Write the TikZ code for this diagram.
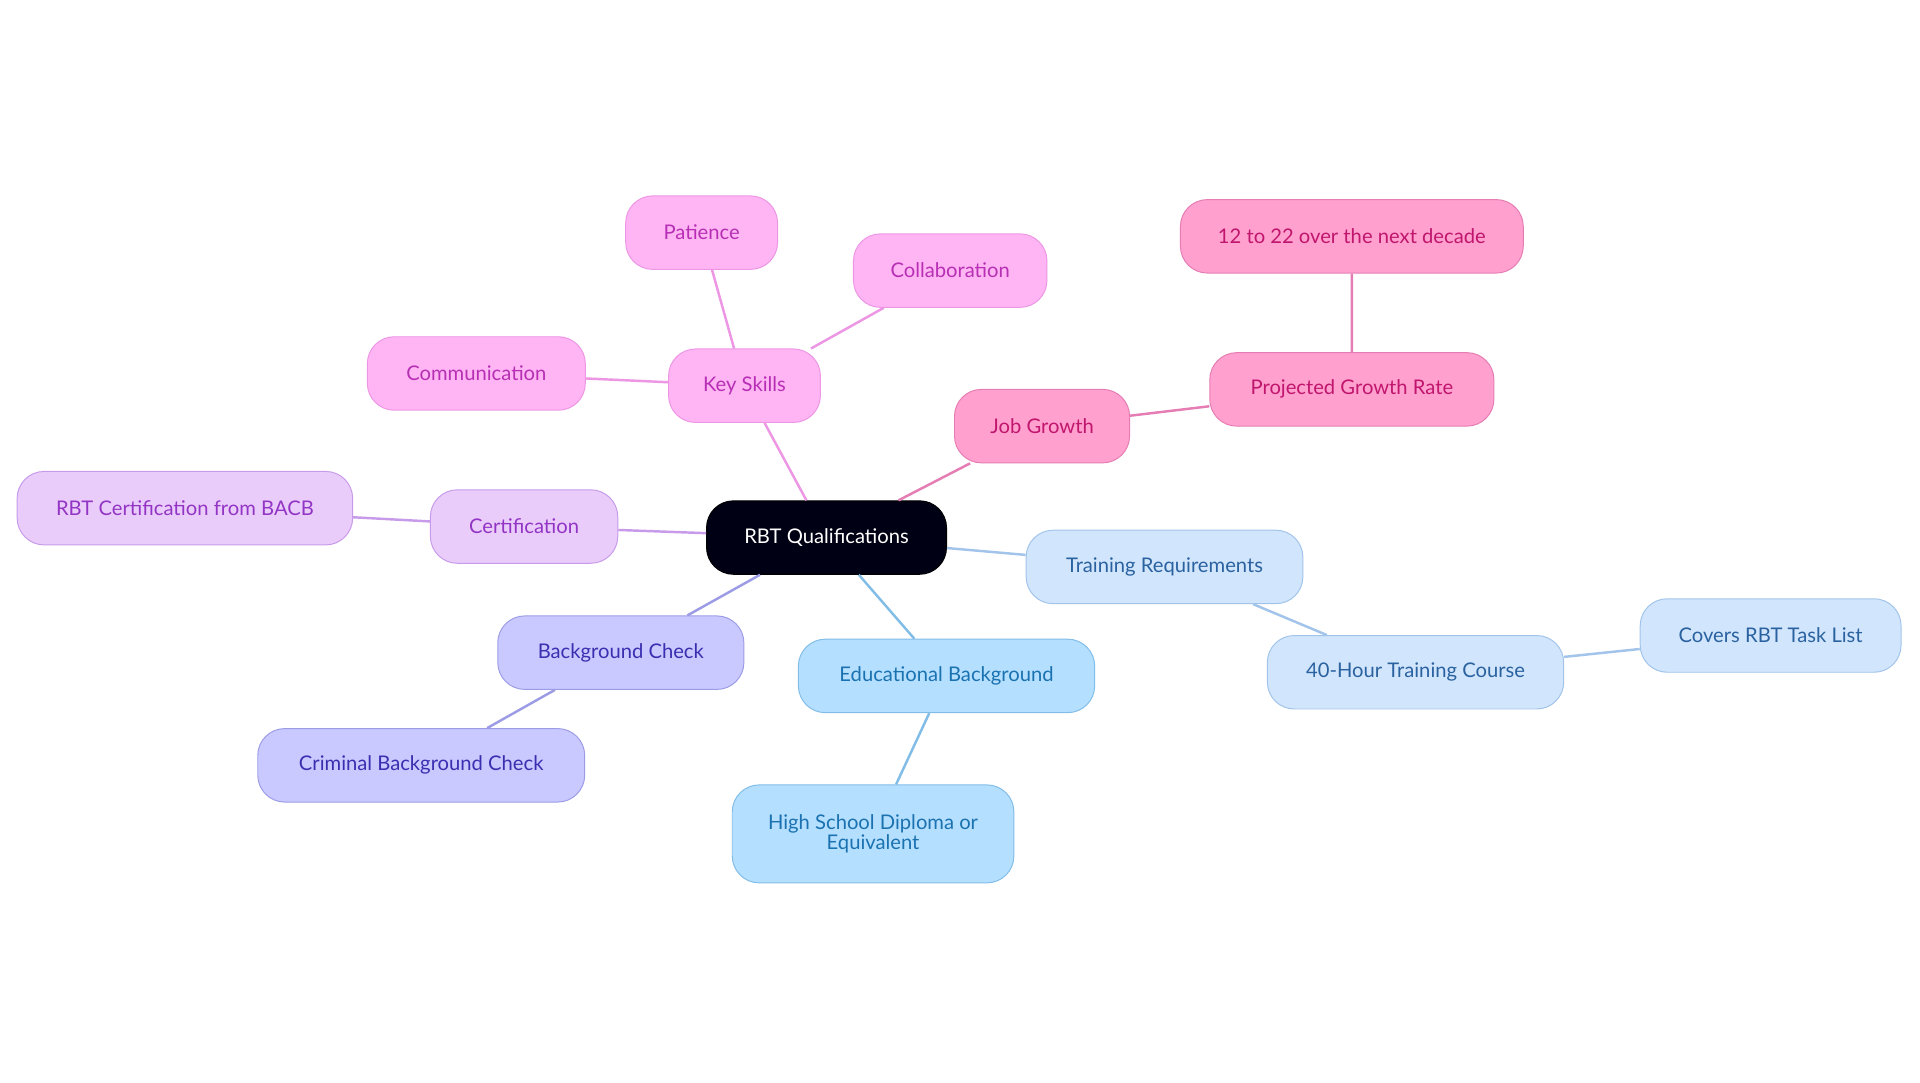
\documentclass[tikz,border=0pt]{standalone}
\usepackage{fontspec}
\setmainfont{Lato}
\begin{document}
\begin{tikzpicture}[x=1pt,y=-1pt,
 box/.style={rounded corners=22pt,draw,line width=0.8pt,minimum height=60pt,font=\fontsize{16.5}{19}\selectfont,align=center,inner sep=2pt},
 pk/.style={box,fill=pkF,draw=pkD,text=pkT},
 jg/.style={box,fill=jgF,draw=jgD,text=jgT},
 ce/.style={box,fill=ceF,draw=ceD,text=ceT},
 bg/.style={box,fill=bgF,draw=bgD,text=bgT},
 ed/.style={box,fill=edF,draw=edD,text=edT},
 tr/.style={box,fill=trF,draw=trD,text=trT},
 ln/.style={line width=2pt}]
\definecolor{pkF}{HTML}{FFB5F3}\definecolor{pkD}{HTML}{EC96E4}\definecolor{pkT}{HTML}{B72FB5}
\definecolor{jgF}{HTML}{FFA0CE}\definecolor{jgD}{HTML}{E57DB4}\definecolor{jgT}{HTML}{C0166E}
\definecolor{ceF}{HTML}{EACCFB}\definecolor{ceD}{HTML}{C79BEA}\definecolor{ceT}{HTML}{9235C4}
\definecolor{bgF}{HTML}{C9C9FF}\definecolor{bgD}{HTML}{9C9CE6}\definecolor{bgT}{HTML}{3A2FB0}
\definecolor{edF}{HTML}{B5DFFF}\definecolor{edD}{HTML}{82BDE8}\definecolor{edT}{HTML}{1A72B0}
\definecolor{trF}{HTML}{D1E5FC}\definecolor{trD}{HTML}{A2C4EA}\definecolor{trT}{HTML}{2A62A0}
\useasboundingbox[fill=white] (0,0) rectangle (1568,884);
\node[box,fill=black!92!blue,draw=black,text=white,minimum width=196pt] (root) at (675,439) {RBT Qualifications};
\node[pk,minimum width=124pt] (ks) at (608,315) {Key Skills};
\node[pk,minimum width=124pt] (pa) at (573,190) {Patience};
\node[pk,minimum width=158pt] (co) at (776,221) {Collaboration};
\node[pk,minimum width=178pt] (cm) at (389,305) {Communication};
\node[jg,minimum width=143pt] (jg) at (851,348) {Job Growth};
\node[jg,minimum width=232pt] (pg) at (1104,318) {Projected Growth Rate};
\node[jg,minimum width=280pt] (td) at (1104,193) {12 to 22 over the next decade};
\node[ce,minimum width=153pt] (ce) at (428,430) {Certification};
\node[ce,minimum width=274pt] (rc) at (151,415) {RBT Certification from BACB};
\node[bg,minimum width=201pt] (bc) at (507,533) {Background Check};
\node[bg,minimum width=267pt] (cb) at (344,625) {Criminal Background Check};
\node[ed,minimum width=242pt] (eb) at (773,552) {Educational Background};
\node[ed,minimum width=230pt,minimum height=80pt] (hs) at (713,681) {High School Diploma or\\[-3pt]Equivalent};
\node[tr,minimum width=226pt] (tq) at (951,463) {Training Requirements};
\node[tr,minimum width=242pt] (fh) at (1156,549) {40-Hour Training Course};
\node[tr,minimum width=213pt] (ct) at (1446,519) {Covers RBT Task List};
\begin{scope}[on background layer/.try]
\end{scope}
\draw[ln,pkD] (root) -- (ks) (ks) -- (pa) (ks) -- (co) (ks) -- (cm);
\draw[ln,jgD] (root) -- (jg) (jg) -- (pg) (pg) -- (td);
\draw[ln,ceD] (root) -- (ce) (ce) -- (rc);
\draw[ln,bgD] (root) -- (bc) (bc) -- (cb);
\draw[ln,edD] (root) -- (eb) (eb) -- (hs);
\draw[ln,trD] (root) -- (tq) (tq) -- (fh) (fh) -- (ct);
\end{tikzpicture}
\end{document}
